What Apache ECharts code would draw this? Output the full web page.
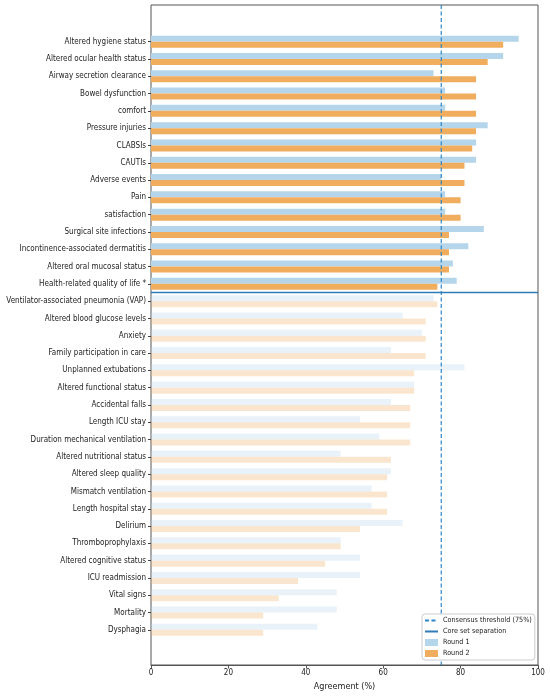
<!DOCTYPE html>
<html><head><meta charset="utf-8">
<script src="https://cdn.jsdelivr.net/npm/echarts@6/dist/echarts.min.js"></script>
<style>html,body{margin:0;padding:0;background:#fff}#c{width:550px;height:696px}</style>
</head><body><div id="c"></div>
<script>
const categories = [
  'Altered hygiene status','Altered ocular health status','Airway secretion clearance','Bowel dysfunction','comfort',
  'Pressure injuries','CLABSIs','CAUTIs','Adverse events','Pain','satisfaction','Surgical site infections',
  'Incontinence-associated dermatitis','Altered oral mucosal status','Health-related quality of life *',
  'Ventilator-associated pneumonia (VAP)','Altered blood glucose levels','Anxiety','Family participation in care',
  'Unplanned extubations','Altered functional status','Accidental falls','Length ICU stay','Duration mechanical ventilation',
  'Altered nutritional status','Altered sleep quality','Mismatch ventilation','Length hospital stay','Delirium',
  'Thromboprophylaxis','Altered cognitive status','ICU readmission','Vital signs','Mortality','Dysphagia'
];
const round1 = [95,91,73,76,76,87,84,84,75,76,76,86,82,78,79,73,65,70,62,81,68,62,54,59,49,62,57,57,65,49,54,54,48,48,43];
const round2 = [91,87,84,84,84,84,83,81,81,80,80,77,77,77,74,74,71,71,71,68,68,67,67,67,62,61,61,61,54,49,45,38,33,29,29];
const xTicks = [0,20,40,60,80,100];
const threshold = 75;
const coreCount = 15;

const H = 696;
const frame = {left:151, right:12, top:5, bottom:31};
const bars = {left:151, right:12, top:33, bottom:57.5};
const band = (H - bars.top - bars.bottom) / categories.length;
const yMin = -0.5 - (bars.top - frame.top) / band;
const yMax = categories.length - 0.5 + (bars.bottom - frame.bottom) / band;
const FONT = "'DejaVu Sans Condensed','DejaVu Sans',sans-serif";
const hideSym = {color:'transparent', borderColor:'transparent', borderWidth:0, opacity:0};

const chart = echarts.init(document.getElementById('c'), null, {renderer:'canvas'});
const fade = (i) => i < coreCount ? 1 : 0.3;
chart.setOption({
  animation:false,
  backgroundColor:'#fff',
  textStyle:{fontFamily:FONT},
  grid:[
    Object.assign({show:true, borderColor:'#555', borderWidth:1, backgroundColor:'transparent', outerBoundsMode:'none', containLabel:false}, frame),
    Object.assign({show:false, outerBoundsMode:'none', containLabel:false}, bars)
  ],
  xAxis:[
    {gridIndex:0, type:'value', position:'bottom', min:xTicks[0], max:xTicks[xTicks.length-1], interval:xTicks[1]-xTicks[0],
     axisLine:{show:true, onZero:false, lineStyle:{color:'#555', width:1}},
     axisTick:{show:true, length:3.5, lineStyle:{color:'#555'}},
     axisLabel:{fontSize:8, color:'#222', margin:4, fontFamily:FONT},
     splitLine:{show:false},
     name:'Agreement (%)', nameLocation:'middle', nameGap:16,
     nameTextStyle:{fontSize:9, color:'#222', fontFamily:FONT}},
    {gridIndex:1, type:'value', min:xTicks[0], max:xTicks[xTicks.length-1], show:false,
     axisLine:{show:false, onZero:false}, axisTick:{show:false}, axisLabel:{show:false}, splitLine:{show:false}}
  ],
  yAxis:[
    {gridIndex:0, type:'value', inverse:true, min:yMin, max:yMax, show:false,
     axisLine:{show:false, onZero:false}, axisTick:{show:false}, axisLabel:{show:false}, splitLine:{show:false}},
    {gridIndex:1, type:'category', inverse:true, data:categories,
     axisLine:{show:false, onZero:false},
     axisTick:{show:true, alignWithLabel:true, length:3, lineStyle:{color:'#444'}},
     axisLabel:{fontSize:8, color:'#222', margin:5, fontFamily:FONT, interval:0},
     splitLine:{show:false}}
  ],
  legend:{
    orient:'vertical', left:422, top:614, z:10,
    itemWidth:13, itemHeight:7, itemGap:4,
    backgroundColor:'#fff', borderColor:'#ccc', borderWidth:1, borderRadius:3,
    padding:[3,3,3,2],
    textStyle:{fontSize:7.2, color:'#222', fontFamily:FONT},
    data:[
      {name:'Consensus threshold (75%)', itemStyle:hideSym},
      {name:'Core set separation', itemStyle:hideSym},
      {name:'Round 1', icon:'rect'},
      {name:'Round 2', icon:'rect'}
    ]
  },
  series:[
    {name:'Consensus threshold (75%)', type:'line', xAxisIndex:0, yAxisIndex:0, z:3,
     data:[[threshold, yMin],[threshold, yMax]], symbol:'none', silent:true, showSymbol:false,
     lineStyle:{color:'#2b86c8', width:1.2, type:[4,2.5]}, itemStyle:{color:'#2b86c8'}},
    {name:'Core set separation', type:'line', xAxisIndex:0, yAxisIndex:0, z:3,
     data:[[xTicks[0], coreCount-0.5],[xTicks[xTicks.length-1], coreCount-0.5]], symbol:'none', silent:true, showSymbol:false,
     lineStyle:{color:'#2f7bb7', width:1.3}, itemStyle:{color:'#2f7bb7'}},
    {name:'Round 1', type:'bar', xAxisIndex:1, yAxisIndex:1, barWidth:6, barGap:'0%',
     itemStyle:{color:'#b5d5ea', borderWidth:0},
     data:round1.map((v,i)=>({value:v, itemStyle:{opacity:fade(i)}}))},
    {name:'Round 2', type:'bar', xAxisIndex:1, yAxisIndex:1, barWidth:6, barGap:'0%',
     itemStyle:{color:'#f0ad5e', borderWidth:0},
     data:round2.map((v,i)=>({value:v, itemStyle:{opacity:fade(i)}}))}
  ]
});
</script></body></html>
